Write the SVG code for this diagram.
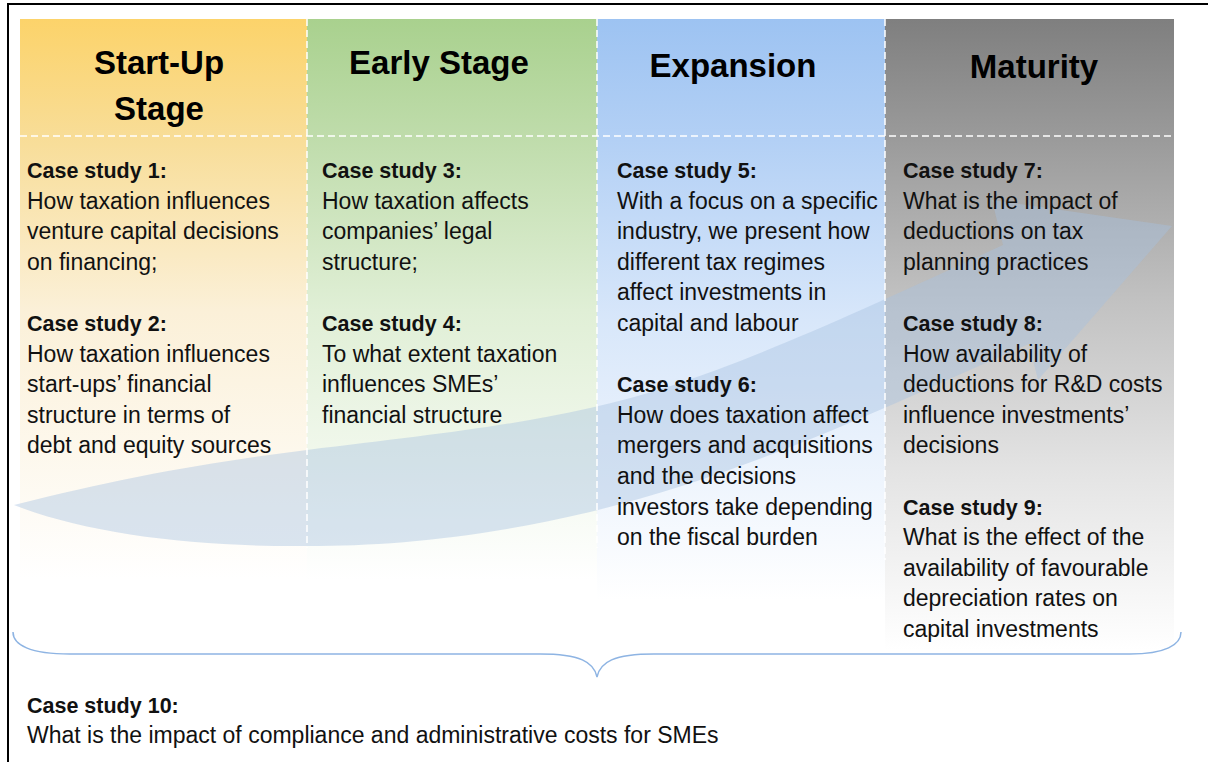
<svg xmlns="http://www.w3.org/2000/svg" width="1208" height="762" viewBox="0 0 1208 762">
  <style>
    .hd { font-family: "Liberation Sans", Arial, sans-serif; font-size: 33px; font-weight: bold; fill: #000; text-anchor: middle; }
    .t { font-family: "Liberation Sans", Arial, sans-serif; font-size: 23px; fill: #111; }
    .b { font-weight: bold; font-size: 21.5px; }
    .dash { stroke: #fff; stroke-width: 1.5; stroke-dasharray: 7 4; fill: none; }
  </style>
  <defs>
    <linearGradient id="gY" gradientUnits="userSpaceOnUse" x1="0" y1="19" x2="0" y2="580">
      <stop offset="0" stop-color="#FCD36A"/>
      <stop offset="0.21" stop-color="#F8DD97"/>
      <stop offset="0.52" stop-color="#FBF0D8"/>
      <stop offset="1" stop-color="#FFFFFF"/>
    </linearGradient>
    <linearGradient id="gG" gradientUnits="userSpaceOnUse" x1="0" y1="19" x2="0" y2="580">
      <stop offset="0" stop-color="#A9D18E"/>
      <stop offset="0.21" stop-color="#BFDCAB"/>
      <stop offset="0.52" stop-color="#E0EFD6"/>
      <stop offset="1" stop-color="#FFFFFF"/>
    </linearGradient>
    <linearGradient id="gB" gradientUnits="userSpaceOnUse" x1="0" y1="19" x2="0" y2="600">
      <stop offset="0" stop-color="#9DC3F2"/>
      <stop offset="0.21" stop-color="#B3D0F5"/>
      <stop offset="0.52" stop-color="#D8E7FA"/>
      <stop offset="1" stop-color="#FFFFFF"/>
    </linearGradient>
    <linearGradient id="gK" gradientUnits="userSpaceOnUse" x1="0" y1="19" x2="0" y2="650">
      <stop offset="0" stop-color="#7F7F7F"/>
      <stop offset="0.2" stop-color="#9C9C9C"/>
      <stop offset="0.45" stop-color="#C2C2C2"/>
      <stop offset="0.72" stop-color="#E4E4E4"/>
      <stop offset="1" stop-color="#FFFFFF"/>
    </linearGradient>
  </defs>

  <rect x="0" y="0" width="1208" height="762" fill="#fff"/>
  <rect x="8" y="4" width="1212" height="775" fill="none" stroke="#000" stroke-width="2"/>

  <!-- column backgrounds -->
  <g id="backgrounds">
    <rect x="20" y="19" width="287" height="561" fill="url(#gY)"/>
    <rect x="307" y="19" width="290" height="561" fill="url(#gG)"/>
    <rect x="597" y="19" width="288" height="581" fill="url(#gB)"/>
    <rect x="885" y="19" width="289" height="631" fill="url(#gK)"/>
  </g>

  <g id="connectors">
    <path d="M14,505 C120,478 210,462 307,450 C420,436 500,428 590,408 C700,384 820,330 1003,245 L992,200 L1172,226 L1038,380 L1029,344 C900,400 760,470 590,512 C480,538 390,546 307,546 C200,547 90,535 14,505 Z" fill="#A8C0E0" fill-opacity="0.42"/>
    <path d="M13,632 C13,645 30,654 70,654 L540,654 C580,654 594,662 597,677 C600,662 614,654 654,654 L1130,654 C1165,654 1181,645 1181,632" fill="none" stroke="#8EB4E3" stroke-width="1.5"/>
  </g>

  <g id="dividers">
    <line class="dash" x1="20" y1="136" x2="1174" y2="136"/>
    <line class="dash" x1="307" y1="19" x2="307" y2="548"/>
    <line class="dash" x1="597" y1="19" x2="597" y2="548"/>
    <line class="dash" x1="885" y1="19" x2="885" y2="560"/>
  </g>

  <g id="col-startup">
    <text class="hd" x="159" y="74">Start-Up</text>
    <text class="hd" x="159" y="120">Stage</text>
    <text class="t b" x="27" y="178">Case study 1:</text>
    <text class="t" x="27" y="208.6">How taxation influences</text>
    <text class="t" x="27" y="239.2">venture capital decisions</text>
    <text class="t" x="27" y="269.8">on financing;</text>
    <text class="t b" x="27" y="331">Case study 2:</text>
    <text class="t" x="27" y="361.6">How taxation influences</text>
    <text class="t" x="27" y="392.2">start-ups’ financial</text>
    <text class="t" x="27" y="422.8">structure in terms of</text>
    <text class="t" x="27" y="453.4">debt and equity sources</text>
  </g>

  <g id="col-early">
    <text class="hd" x="439" y="74">Early Stage</text>
    <text class="t b" x="322" y="178">Case study 3:</text>
    <text class="t" x="322" y="208.6">How taxation affects</text>
    <text class="t" x="322" y="239.2">companies’ legal</text>
    <text class="t" x="322" y="269.8">structure;</text>
    <text class="t b" x="322" y="331">Case study 4:</text>
    <text class="t" x="322" y="361.6">To what extent taxation</text>
    <text class="t" x="322" y="392.2">influences SMEs’</text>
    <text class="t" x="322" y="422.8">financial structure</text>
  </g>

  <g id="col-expansion">
    <text class="hd" x="733" y="77">Expansion</text>
    <text class="t b" x="617" y="178">Case study 5:</text>
    <text class="t" x="617" y="208.6">With a focus on a specific</text>
    <text class="t" x="617" y="239.2">industry, we present how</text>
    <text class="t" x="617" y="269.8">different tax regimes</text>
    <text class="t" x="617" y="300.4">affect investments in</text>
    <text class="t" x="617" y="331">capital and labour</text>
    <text class="t b" x="617" y="392.2">Case study 6:</text>
    <text class="t" x="617" y="422.8">How does taxation affect</text>
    <text class="t" x="617" y="453.4">mergers and acquisitions</text>
    <text class="t" x="617" y="484">and the decisions</text>
    <text class="t" x="617" y="514.6">investors take depending</text>
    <text class="t" x="617" y="545.2">on the fiscal burden</text>
  </g>

  <g id="col-maturity">
    <text class="hd" x="1034" y="78">Maturity</text>
    <text class="t b" x="903" y="178">Case study 7:</text>
    <text class="t" x="903" y="208.6">What is the impact of</text>
    <text class="t" x="903" y="239.2">deductions on tax</text>
    <text class="t" x="903" y="269.8">planning practices</text>
    <text class="t b" x="903" y="331">Case study 8:</text>
    <text class="t" x="903" y="361.6">How availability of</text>
    <text class="t" x="903" y="392.2">deductions for R&amp;D costs</text>
    <text class="t" x="903" y="422.8">influence investments’</text>
    <text class="t" x="903" y="453.4">decisions</text>
    <text class="t b" x="903" y="514.6">Case study 9:</text>
    <text class="t" x="903" y="545.2">What is the effect of the</text>
    <text class="t" x="903" y="575.8">availability of favourable</text>
    <text class="t" x="903" y="606.4">depreciation rates on</text>
    <text class="t" x="903" y="637">capital investments</text>
  </g>

  <g id="case10">
    <text class="t b" x="27" y="713">Case study 10:</text>
    <text class="t" x="27" y="743">What is the impact of compliance and administrative costs for SMEs</text>
  </g>
</svg>
